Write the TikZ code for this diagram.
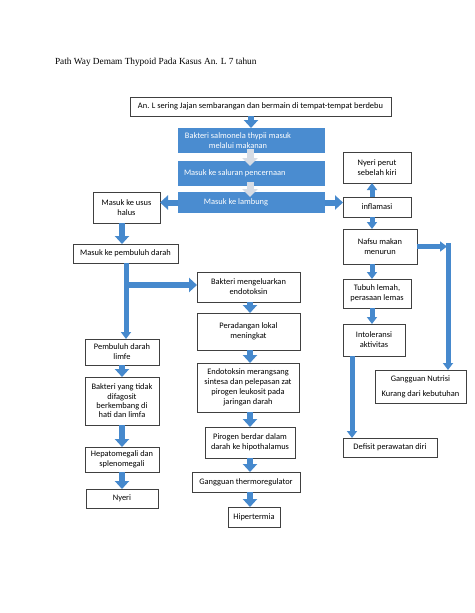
\documentclass[tikz,border=0pt]{standalone}
\usepackage{fontspec}
\setmainfont{Carlito}
\newfontfamily\titlefont{Liberation Serif}
\usetikzlibrary{arrows.meta}
\definecolor{arrblue}{RGB}{70,137,205}
\definecolor{boxblue}{RGB}{74,140,208}
\definecolor{greyarr}{RGB}{214,220,229}
\begin{document}
\begin{tikzpicture}[x=1pt,y=-1pt,
  every node/.style={inner sep=1pt, outer sep=0pt},
  wbox/.style={draw=black!75, line width=0.6pt, fill=white, align=center,
    font=\fontsize{8.4}{10}\selectfont},
  bbox/.style={fill=boxblue, draw=none, text=white, align=center,
    font=\fontsize{8.4}{10}\selectfont},
  blockarrow/.style={draw=arrblue, line width=6pt,
    -{Triangle[width=14pt,length=8pt]}},
  thinarrow/.style={draw=arrblue, line width=5pt,
    -{Triangle[width=10pt,length=7pt]}},
  greyarrow/.style={draw=greyarr, line width=7pt,
    -{Triangle[width=15pt,length=8pt]}}]
\useasboundingbox (0,0) rectangle (474,613);
\fill[white] (0,0) rectangle (474,613);

% title
\node[anchor=west, font=\titlefont\fontsize{9.3}{11}\selectfont] (title) at (54,62)
  {Path Way Demam Thypoid Pada Kasus An. L 7 tahun};

% column coordinates
\coordinate (mc) at (251,0);
\coordinate (lc) at (126,0);
\coordinate (llc) at (122,0);
\coordinate (rc) at (372,0);
\coordinate (gc) at (250,0);

% top and blue boxes
\node[wbox, minimum width=261pt, minimum height=19pt] (top) at (260.5,106.5)
  {An. L sering Jajan sembarangan dan bermain di tempat-tempat berdebu};
\node[bbox, minimum width=147pt, minimum height=25pt] (b1) at (251.5,140.5) {};
\node[bbox, minimum width=147pt, minimum height=25pt] (b2) at (251.5,173.5) {};
\node[bbox, minimum width=147pt, minimum height=21pt] (b3) at (251.5,202.5) {};

% left column
\node[wbox, minimum width=67pt, minimum height=31pt] (usus) at (126.5,207.5)
  {Masuk ke usus\\halus};
\node[wbox, minimum width=105pt, minimum height=19pt] (pemb) at (125.5,253.5)
  {Masuk ke pembuluh darah};
\node[wbox, minimum width=74pt, minimum height=26pt] (limfe) at (122,352)
  {Pembuluh darah\\limfe};
\node[wbox, minimum width=74pt, minimum height=48pt, font=\fontsize{8.4}{9.3}\selectfont] (bakt) at (122,401)
  {Bakteri yang tidak\\difagosit\\berkembang di\\hati dan limfa};
\node[wbox, minimum width=74pt, minimum height=25pt] (hepa) at (122,459.5)
  {Hepatomegali dan\\splenomegali};
\node[wbox, minimum width=72pt, minimum height=19pt] (nyeri) at (122,498.5)
  {Nyeri};

% middle column
\node[wbox, minimum width=103pt, minimum height=30pt] (endo) at (248.5,287)
  {Bakteri mengeluarkan\\endotoksin};
\node[wbox, minimum width=103pt, minimum height=37pt] (pera) at (248.5,331.5)
  {Peradangan lokal\\meningkat};
\node[wbox, minimum width=102pt, minimum height=49pt] (sint) at (248,387.5)
  {Endotoksin merangsang\\sintesa dan pelepasan zat\\pirogen leukosit pada\\jaringan darah};
\node[wbox, minimum width=90pt, minimum height=31pt] (piro) at (250,442.5)
  {Pirogen berdar dalam\\darah ke hipothalamus};
\node[wbox, minimum width=108pt, minimum height=20pt] (thermo) at (246,482)
  {Gangguan thermoregulator};
\node[wbox, minimum width=52pt, minimum height=20pt] (hiper) at (254,517)
  {Hipertermia};

% right column
\node[wbox, minimum width=68pt, minimum height=31pt] (nperut) at (377,167.5)
  {Nyeri perut\\sebelah kiri};
\node[wbox, minimum width=68pt, minimum height=20pt] (infl) at (377,207)
  {inflamasi};
\node[wbox, minimum width=74pt, minimum height=35pt] (nafsu) at (380,246.5)
  {Nafsu makan\\menurun};
\node[wbox, minimum width=68pt, minimum height=29pt] (tubuh) at (377,293.5)
  {Tubuh lemah,\\perasaan lemas};
\node[wbox, minimum width=62pt, minimum height=32pt] (intol) at (374,340)
  {Intoleransi\\aktivitas};
\node[wbox, minimum width=91pt, minimum height=33pt] (nutri) at (420.5,386.5)
  {Gangguan Nutrisi\\[5pt]Kurang dari kebutuhan};
\node[wbox, minimum width=94pt, minimum height=19pt] (defi) at (390,447.5)
  {Defisit perawatan diri};

% grey arrows inside blue block
\draw[greyarrow] ([yshift=4pt]b1.south -| gc) -- ([yshift=-5pt]b2.north -| gc);
\draw[greyarrow] ([yshift=4pt]b2.south -| gc) -- ([yshift=-5pt]b3.north -| gc);

% texts in blue boxes
\node[text=white, align=center, font=\fontsize{8.4}{10}\selectfont] (t1) at (238,140.5)
  {Bakteri salmonela thypii masuk\\melalui makanan};
\node[text=white, anchor=west, font=\fontsize{8.4}{10}\selectfont] (t2) at (183,173.5)
  {Masuk ke saluran pencernaan};
\node[text=white, font=\fontsize{8.4}{10}\selectfont] (t3) at (236,202.5)
  {Masuk ke lambung};

% connectors
\draw[blockarrow] (top.south -| mc) -- (b1.north -| mc);
\draw[blockarrow] (b3.west) -- (b3.west -| usus.east);
\draw[blockarrow] (b3.east) -- (b3.east -| infl.west);
\draw[blockarrow] (usus.south -| llc) -- (pemb.north -| llc);

\draw[thinarrow] (pemb.south -| lc) -- (limfe.north -| lc);
\coordinate (br) at (126,285);
\draw[blockarrow] (br) -- (br -| endo.west);

\draw[blockarrow] (limfe.south -| llc) -- (bakt.north -| llc);
\draw[blockarrow] (bakt.south -| llc) -- (hepa.north -| llc);
\draw[blockarrow] (hepa.south -| llc) -- (nyeri.north -| llc);

\draw[blockarrow] (endo.south -| gc) -- (pera.north -| gc);
\draw[blockarrow] (pera.south -| gc) -- (sint.north -| gc);
\draw[blockarrow] (sint.south -| gc) -- (piro.north -| gc);
\draw[blockarrow] (piro.south -| gc) -- (thermo.north -| gc);
\draw[blockarrow] (thermo.south -| gc) -- (hiper.north -| gc);

\draw[thinarrow] (infl.north -| rc) -- (nperut.south -| rc);
\draw[thinarrow] (infl.south -| rc) -- (nafsu.north -| rc);
\draw[thinarrow] (nafsu.south -| rc) -- (tubuh.north -| rc);
\draw[thinarrow] (tubuh.south -| rc) -- (intol.north -| rc);

\coordinate (nr) at (447,246.5);
\draw[thinarrow] (nafsu.east) -- (nr);
\coordinate (vr) at (448,243);
\draw[thinarrow] (vr) -- (vr |- nutri.north);

\coordinate (dc) at (352,0);
\draw[thinarrow] (intol.south -| dc) -- (defi.north -| dc);
\end{tikzpicture}
\end{document}
